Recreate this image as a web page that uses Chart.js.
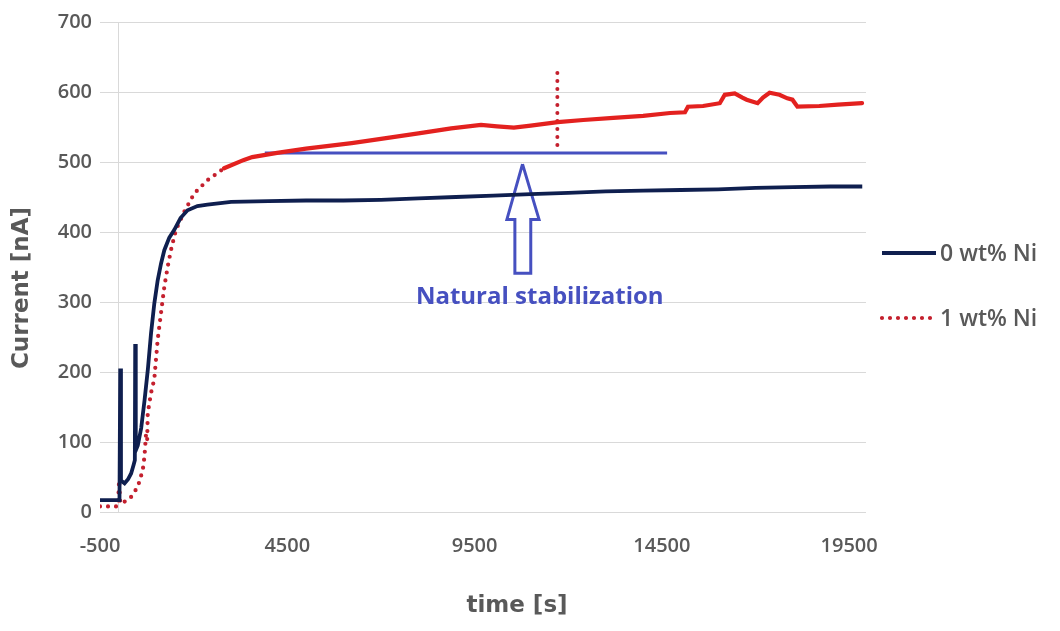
<!DOCTYPE html>
<html>
<head>
<meta charset="utf-8">
<title>Current vs time</title>
<script src="https://cdn.jsdelivr.net/npm/chart.js@4.4.1/dist/chart.umd.min.js"></script>
<style>
  html, body { margin: 0; padding: 0; background: #fff; }
  #wrap { width: 1060px; height: 631px; }
</style>
</head>
<body>
<div id="wrap"><canvas id="chart"></canvas></div>
<script>
// x tick values (0 carries only the vertical axis line, no label)
const timeTicks = [-500, 0, 4500, 9500, 14500, 19500];
const currentMin = 0;
const currentMax = 700;
const currentStep = 100;

const seriesNames = ['0 wt% Ni', '1 wt% Ni'];

// 0 wt% Ni
const time0 = [-500, -100, 20, 40, 60, 156, 250, 331, 400, 430, 440, 455, 509, 600, 690, 780, 862, 950,
  1040, 1130, 1217, 1350, 1484, 1650, 1837, 2100, 2369, 3000, 4000, 5000, 6000, 7000, 8000, 9000,
  10000, 11000, 12000, 13000, 14000, 15000, 16000, 17000, 18000, 19000, 19850];
const current0 = [17, 17, 17, 205, 45, 41, 47, 55, 68, 74, 240, 88, 95, 120, 160, 205, 255, 298,
  331, 355, 374, 392, 403, 420, 431, 437, 439, 443, 444, 445, 445, 446, 448, 450,
  452, 454, 456, 458, 459, 460, 461, 463, 464, 465, 465];

// 1 wt% Ni
const time1 = [-500, -150, -20, 10, 40, 110, 323, 509, 642, 687, 730, 760, 775, 862, 950, 1040,
  1128, 1218, 1306, 1394, 1527, 1750, 2015, 2369, 2812, 3343, 3564, 4228, 5000, 6220, 7000, 8000,
  8876, 9672, 10100, 10549, 11000, 11718, 12400, 13205, 14000, 14719, 15117, 15197, 15600, 16047,
  16180, 16446, 16650, 16764, 17056, 17200, 17375, 17640, 17850, 17986, 18119, 18703, 19200, 19845];
const current1 = [8, 8, 8, 45, 12, 13, 21, 36, 60, 79, 112, 104, 141, 170, 190, 246,
  284, 322, 350, 374, 403, 429, 455, 474, 491, 503, 507, 513, 519, 527, 533, 541,
  548, 553, 551, 549, 552, 557, 560, 563, 566, 570, 571, 579, 580, 584,
  596, 598, 592, 589, 584, 592, 599, 596, 591, 589, 579, 580, 582, 584];

// annotation: stabilization level, red marker, arrow outline
const levelTime = [3900, 14640];
const levelCurrent = [513, 513];
const markTime = [11710, 11710];
const markCurrent = [627, 524];
const arrowTime = [10780, 11221, 11000, 11000, 10576, 10576, 10363, 10780];
const arrowCurrent = [497, 418, 418, 341, 341, 418, 418, 497];
const noteText = 'Natural stabilization';
const noteTime = 11240;
const noteCurrent = 307;

const toPoints = (xs, ys) => xs.map((x, i) => ({ x: x, y: ys[i] }));

const textGray = '#595959';
const navy = '#0f1f4f';
const red = '#e3211f';
const darkRed = '#c4202e';
const blue = '#4650c0';

// axis titles, legend and note text
const decorations = {
    id: 'decorations',
    afterDraw(chart) {
        const { ctx, scales } = chart;
        ctx.save();
        ctx.fillStyle = textGray;
        ctx.textAlign = 'center';
        ctx.textBaseline = 'middle';
        ctx.font = 'bold 23px "DejaVu Sans"';
        ctx.fillText('time [s]', 517, 606);
        ctx.save();
        ctx.translate(22, 288);
        ctx.rotate(-Math.PI / 2);
        ctx.fillText('Current [nA]', 0, 0);
        ctx.restore();

        // legend
        const rows = [253, 318];
        ctx.font = '600 23px "Open Sans"';
        ctx.textAlign = 'left';
        seriesNames.forEach((name, i) => {
            const ds = chart.data.datasets[i];
            ctx.save();
            ctx.strokeStyle = ds.legendColor || ds.borderColor;
            ctx.lineWidth = ds.borderWidth;
            ctx.lineCap = ds.borderCapStyle || 'butt';
            ctx.setLineDash(ds.borderDash || []);
            ctx.beginPath();
            ctx.moveTo(882, rows[i]);
            ctx.lineTo(936, rows[i]);
            ctx.stroke();
            ctx.restore();
            ctx.fillText(name, 940, rows[i] + 1);
        });

        // note under the arrow
        ctx.fillStyle = blue;
        ctx.textAlign = 'center';
        ctx.font = 'bold 24px "Open Sans"';
        ctx.fillText(noteText, scales.x.getPixelForValue(noteTime), scales.y.getPixelForValue(noteCurrent));
        ctx.restore();
    }
};

const ctx = document.getElementById('chart').getContext('2d');
new Chart(ctx, {
    type: 'line',
    data: {
        datasets: [
            {
                label: seriesNames[0],
                data: toPoints(time0, current0),
                borderColor: navy,
                borderWidth: 3.8,
                pointRadius: 0,
                order: 1
            },
            {
                label: seriesNames[1],
                data: toPoints(time1, current1),
                borderColor: red,
                legendColor: darkRed,
                borderWidth: 4.2,
                borderDash: [0, 8],
                borderCapStyle: 'round',
                pointRadius: 0,
                order: 2,
                segment: {
                    // the dense flat part reads as a solid red line
                    borderDash: c => c.p0.parsed.x >= 2800 ? [] : undefined,
                    borderColor: c => c.p0.parsed.x >= 2800 ? red : darkRed
                }
            },
            {
                label: 'level',
                data: toPoints(levelTime, levelCurrent),
                borderColor: blue,
                borderWidth: 3,
                pointRadius: 0,
                order: 3
            },
            {
                label: 'marker',
                data: toPoints(markTime, markCurrent),
                borderColor: darkRed,
                borderWidth: 4,
                borderDash: [0, 8],
                borderCapStyle: 'round',
                pointRadius: 0,
                order: 3
            },
            {
                label: 'arrow',
                data: toPoints(arrowTime, arrowCurrent),
                borderColor: blue,
                borderWidth: 3,
                borderJoinStyle: 'miter',
                pointRadius: 0,
                fill: false,
                order: 4
            }
        ]
    },
    options: {
        responsive: true,
        maintainAspectRatio: false,
        animation: false,
        layout: { padding: { top: 22, right: 194, left: 0, bottom: 0 } },
        plugins: {
            legend: { display: false },
            tooltip: { enabled: false }
        },
        scales: {
            x: {
                type: 'linear',
                min: -500,
                max: 19950,
                afterBuildTicks: scale => {
                    scale.ticks = timeTicks.map(v => ({ value: v }));
                },
                afterFit: scale => { scale.height = 119; },
                ticks: {
                    autoSkip: false,
                    maxRotation: 0,
                    padding: 22,
                    color: textGray,
                    font: { family: 'Open Sans', size: 20, weight: 600 },
                    callback: v => (v === 0 ? '' : String(v))
                },
                grid: {
                    drawTicks: false,
                    color: c => (c.tick && c.tick.value === 0 ? '#d9d9d9' : 'rgba(0,0,0,0)')
                },
                border: { display: false }
            },
            y: {
                min: currentMin,
                max: currentMax,
                afterFit: scale => { scale.width = 100; },
                ticks: {
                    stepSize: currentStep,
                    padding: 8,
                    color: textGray,
                    font: { family: 'Open Sans', size: 20, weight: 600 }
                },
                grid: { drawTicks: false, color: '#d9d9d9' },
                border: { display: false }
            }
        }
    },
    plugins: [decorations]
});
</script>
</body>
</html>
